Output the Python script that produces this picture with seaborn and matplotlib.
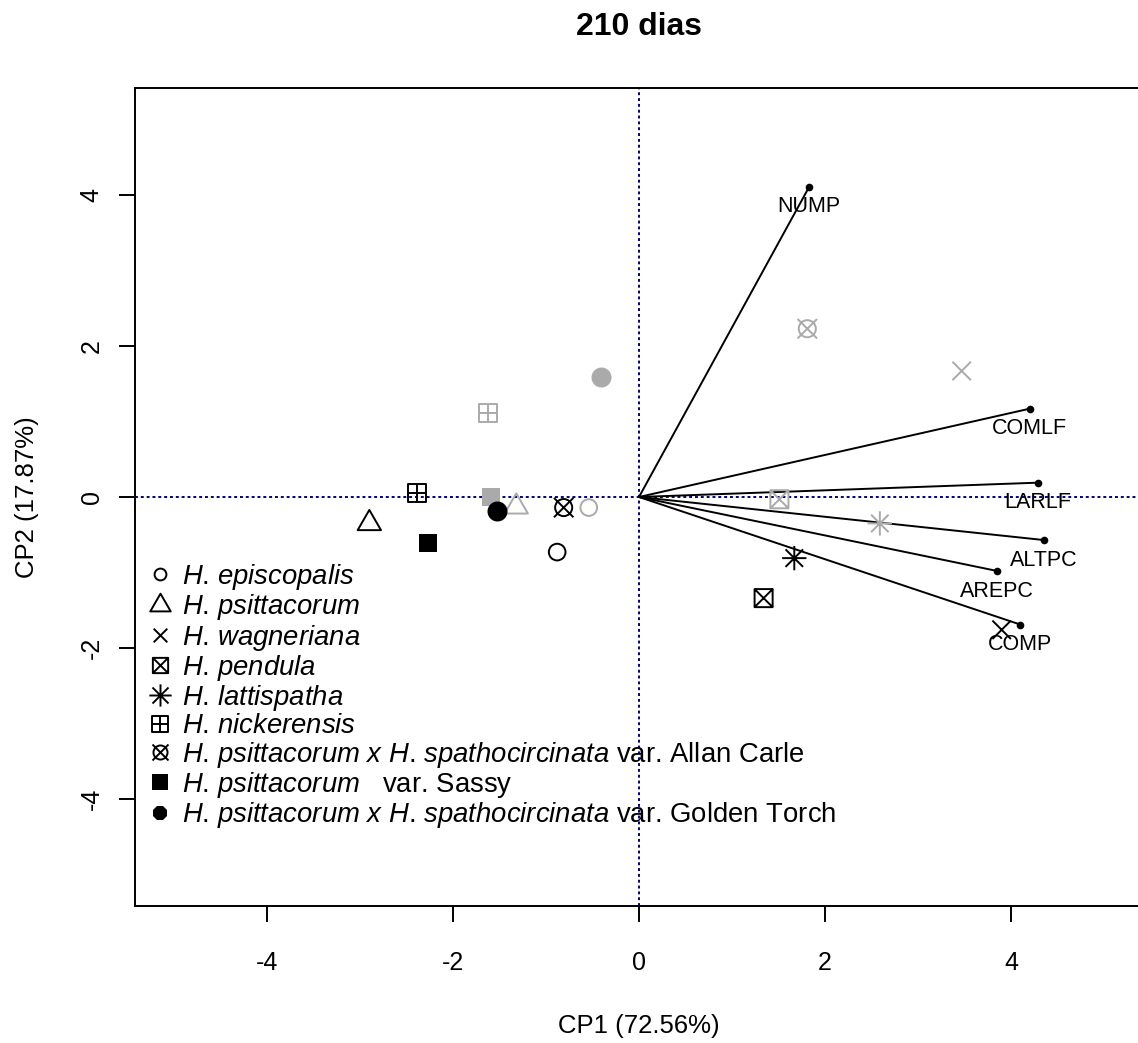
import matplotlib
matplotlib.use('Agg')
import numpy as np
import pandas as pd
import matplotlib.pyplot as plt
import seaborn as sns
from matplotlib.path import Path
from matplotlib.transforms import Affine2D
from matplotlib.lines import Line2D

# 数据 (CP1 / CP2 scores)
species = [
    r'$\mathit{H}$. $\mathit{episcopalis}$',
    r'$\mathit{H}$. $\mathit{psittacorum}$',
    r'$\mathit{H}$. $\mathit{wagneriana}$',
    r'$\mathit{H}$. $\mathit{pendula}$',
    r'$\mathit{H}$. $\mathit{lattispatha}$',
    r'$\mathit{H}$. $\mathit{nickerensis}$',
    r'$\mathit{H}$. $\mathit{psittacorum}$ $\mathit{x}$ $\mathit{H}$. $\mathit{spathocircinata}$ var. Allan Carle',
    r'$\mathit{H}$. $\mathit{psittacorum}$   var. Sassy',
    r'$\mathit{H}$. $\mathit{psittacorum}$ $\mathit{x}$ $\mathit{H}$. $\mathit{spathocircinata}$ var. Golden Torch',
]
cp1_black = [-0.88, -2.90, 3.90, 1.34, 1.67, -2.39, -0.81, -2.27, -1.53]
cp2_black = [-0.73, -0.35, -1.76, -1.34, -0.81, 0.05, -0.14, -0.61, -0.19]
cp1_gray = [-0.54, -1.32, 3.47, 1.51, 2.59, -1.62, 1.81, -1.59, -0.41]
cp2_gray = [-0.14, -0.13, 1.67, -0.03, -0.35, 1.11, 2.23, 0.00, 1.59]

var_names = ['NUMP', 'COMLF', 'LARLF', 'ALTPC', 'AREPC', 'COMP']
var_cp1 = [1.83, 4.20, 4.29, 4.35, 3.85, 4.10]
var_cp2 = [4.11, 1.17, 0.19, -0.57, -0.98, -1.69]

ticks = [-4, -2, 0, 2, 4]

sns.set_style('white')
plt.rcParams['font.family'] = ['Liberation Sans', 'DejaVu Sans']
plt.rcParams['mathtext.fontset'] = 'custom'
plt.rcParams['mathtext.rm'] = 'Liberation Sans'
plt.rcParams['mathtext.it'] = 'Liberation Sans:italic'
plt.rcParams['mathtext.bf'] = 'Liberation Sans:bold'
plt.rcParams['axes.unicode_minus'] = False
plt.rcParams['text.color'] = 'black'
plt.rcParams['axes.labelcolor'] = 'black'
plt.rcParams['xtick.color'] = 'black'
plt.rcParams['ytick.color'] = 'black'

GRAY = '#AAAAAA'
NAVY = '#000080'
LW = 1.4

# R 风格的符号
M, L, C = Path.MOVETO, Path.LINETO, Path.CLOSEPOLY
square = Path([(-1, -1), (1, -1), (1, 1), (-1, 1), (-1, -1)], [M, L, L, L, C])
cross = Path([(-1, -1), (1, 1), (-1, 1), (1, -1)], [M, L, M, L])
plus = Path([(-1, 0), (1, 0), (0, -1), (0, 1)], [M, L, M, L])
tri = Path([(0, 1), (0.866, -0.5), (-0.866, -0.5), (0, 1)], [M, L, L, C])
ast = Path([(-1, 0), (1, 0), (0, -1), (0, 1),
            (-0.72, -0.72), (0.72, 0.72), (-0.72, 0.72), (0.72, -0.72)], [M, L] * 4)
sq_x = Path.make_compound_path(square, cross)
sq_plus = Path.make_compound_path(square, plus)
circ_x = Path.make_compound_path(Path.unit_circle().transformed(Affine2D().scale(0.88)), cross)

# (marker, plot size, legend size, filled)
marker_spec = [
    ('o', 12.0, 8.5, False),
    (tri, 19.4, 17.0, False),
    (cross, 13.3, 9.8, False),
    (sq_x, 13.0, 11.0, False),
    (ast, 17.5, 16.0, False),
    (sq_plus, 13.0, 11.0, False),
    (circ_x, 14.0, 11.5, False),
    ('s', 12.5, 11.5, True),
    ('8', 14.4, 11.0, True),
]

fig = plt.figure(figsize=(11.38, 10.43), dpi=100)
ax = fig.add_axes([135 / 1138, (1043 - 906) / 1043, (1143 - 135) / 1138, (906 - 88) / 1043])

ax.axhline(0, color=NAVY, lw=LW, ls=(0, (1.5, 1.5)), zorder=1)
ax.axvline(0, color=NAVY, lw=LW, ls=(0, (1.5, 1.5)), zorder=1)

# 变量向量
for x, y in zip(var_cp1, var_cp2):
    ax.plot([0, x], [0, y], color='black', lw=LW, zorder=2)
sns.scatterplot(x=var_cp1, y=var_cp2, marker='o', s=5.5 ** 2, color='black',
                linewidth=0, ax=ax, zorder=4)
for name, x, y in zip(var_names, var_cp1, var_cp2):
    ax.annotate(name, (x, y), xytext=(0, -14.5), textcoords='offset points',
                ha='center', va='center', fontsize=15.5, zorder=5)

# 样本点
for i in range(len(species)):
    mk, ms, _, filled = marker_spec[i]
    if mk == '8':
        mk = 'o'
    for xs, ys, col in [(cp1_gray, cp2_gray, GRAY), (cp1_black, cp2_black, 'black')]:
        if filled:
            sns.scatterplot(x=[xs[i]], y=[ys[i]], marker=mk, s=ms ** 2, color=col,
                            linewidth=0, ax=ax, zorder=3)
        else:
            sns.scatterplot(x=[xs[i]], y=[ys[i]], marker=mk, s=ms ** 2,
                            facecolor='none', edgecolor=col, linewidth=LW,
                            ax=ax, zorder=3)

ax.set_xlim(-5.42, 5.42)
ax.set_ylim(-5.42, 5.42)
ax.set_xticks(ticks)
ax.set_yticks(ticks)
ax.set_xticklabels([str(t) for t in ticks])
ax.set_yticklabels([str(t) for t in ticks], rotation=90, va='center')
ax.tick_params(direction='out', length=11.5, width=LW, labelsize=18,
               bottom=True, left=True, top=False, right=False, colors='black')
ax.tick_params(axis='x', pad=21)
ax.tick_params(axis='y', pad=11)
for sp in ax.spines.values():
    sp.set_color('black')
    sp.set_linewidth(LW)

ax.set_xlabel('CP1 (72.56%)', fontsize=18.5)
ax.set_ylabel('CP2 (17.87%)', fontsize=18.5)
ax.xaxis.set_label_coords(0.5, (906 - 1026) / 818)
ax.xaxis.label.set_verticalalignment('center')
ax.yaxis.set_label_coords((27 - 135) / 1008, 0.5)
ax.yaxis.label.set_verticalalignment('center')
ax.set_title('210 dias', fontsize=23, fontweight='bold', pad=38, color='black')

# 图例
handles = []
for i in range(len(species)):
    mk, _, lms, filled = marker_spec[i]
    handles.append(Line2D([], [], linestyle='none', marker=mk, markersize=lms,
                          markerfacecolor='black' if filled else 'none',
                          markeredgecolor='black',
                          markeredgewidth=0 if filled else LW))
ax.legend(handles, species, loc='upper left',
          bbox_to_anchor=((149 - 135) / 1008, (906 - 562) / 818),
          frameon=False, fontsize=19.8, borderpad=0, borderaxespad=0,
          handlelength=0.8, handletextpad=0.4, labelspacing=0.01)

plt.savefig('out.png', dpi=100)
plt.close()
